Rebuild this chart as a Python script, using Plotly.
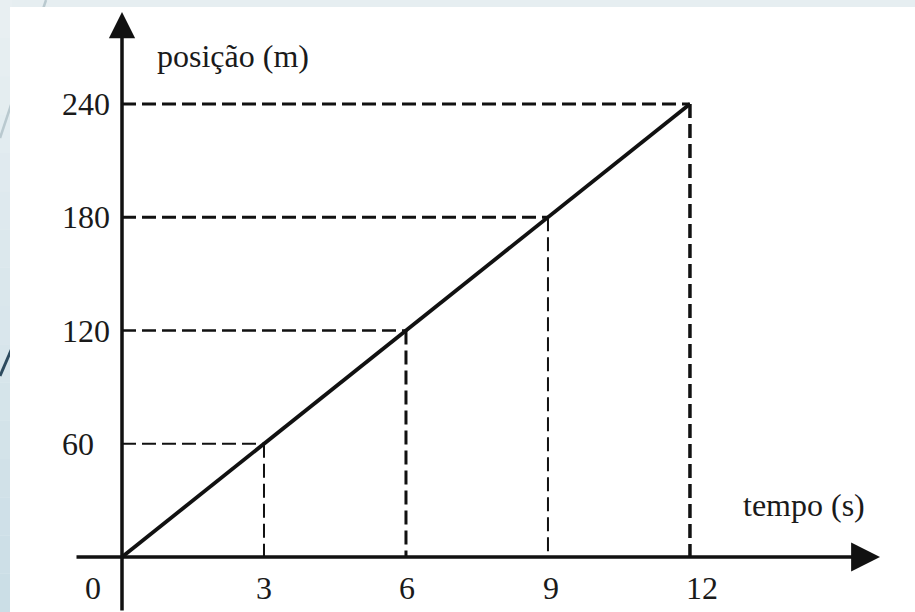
import plotly.graph_objects as go

# Movement data: position (m) against time (s)
tempo = [0, 3, 6, 9, 12]
posicao = [0, 60, 120, 180, 240]
x_tick_labels = ["0", "3", "6", "9", "12"]
y_tick_labels = ["60", "120", "180", "240"]

W, H = 915, 612
# pixel placement of the origin and the pixels per unit on each axis
X0, XS = 122, 47.33
Y0, YS = 557, 1.8875
x_range = [-X0 / XS, (W - X0) / XS]
y_range = [-(H - Y0) / YS, Y0 / YS]

INK = "#111111"
TXT = "#1a1a1a"
FONT = "Liberation Serif"


def px_x(p):
    return p / W


def px_y(p):
    return 1 - p / H


fig = go.Figure()

# dashed guides from each point to the axes
h_widths = [2, 2.5, 3, 3]
v_widths = [2, 3, 2, 3.5]
for i, (t, p) in enumerate(zip(tempo[1:], posicao[1:])):
    fig.add_trace(go.Scatter(x=[0, t], y=[p, p], mode="lines",
                             line=dict(color=INK, width=h_widths[i], dash="14px,6px"),
                             hoverinfo="skip", showlegend=False))
    fig.add_trace(go.Scatter(x=[t, t], y=[p, 0], mode="lines",
                             line=dict(color=INK, width=v_widths[i], dash="14px,6px"),
                             hoverinfo="skip", showlegend=False))

# position line
fig.add_trace(go.Scatter(x=tempo, y=posicao, mode="lines",
                         line=dict(color=INK, width=3.8),
                         hoverinfo="skip", showlegend=False))

# page background: slide strip on the left, white panel
shapes = []
bands = 16
c_top = (232, 239, 242)
c_bot = (203, 222, 230)
for k in range(bands):
    f = k / (bands - 1)
    c = tuple(int(round(c_top[j] + (c_bot[j] - c_top[j]) * f)) for j in range(3))
    shapes.append(dict(type="rect", xref="paper", yref="paper", layer="below",
                       x0=0, x1=px_x(12), y0=px_y(H * (k + 1) / bands), y1=px_y(H * k / bands),
                       line=dict(width=0), fillcolor="rgb(%d,%d,%d)" % c))
shapes.append(dict(type="line", xref="paper", yref="paper", layer="below",
                   x0=px_x(46), y0=px_y(0), x1=px_x(0), y1=px_y(138),
                   line=dict(color="#b9c9cf", width=2.5)))
shapes.append(dict(type="line", xref="paper", yref="paper", layer="below",
                   x0=px_x(40), y0=px_y(283), x1=px_x(0), y1=px_y(376),
                   line=dict(color="#2d4b5f", width=3)))
shapes.append(dict(type="rect", xref="paper", yref="paper", layer="below",
                   x0=px_x(10), x1=1, y0=0, y1=px_y(7),
                   line=dict(width=0), fillcolor="#ffffff"))

annotations = []
# axes with arrow heads
annotations.append(dict(x=(880 - X0) / XS, y=0, ax=(75 - X0) / XS, ay=0,
                        xref="x", yref="y", axref="x", ayref="y", text="",
                        showarrow=True, arrowhead=2, arrowsize=1.65,
                        arrowwidth=3.5, arrowcolor=INK))
annotations.append(dict(x=0, y=(Y0 - 12) / YS, ax=0, ay=y_range[0],
                        xref="x", yref="y", axref="x", ayref="y", text="",
                        showarrow=True, arrowhead=2, arrowsize=1.5,
                        arrowwidth=3.5, arrowcolor=INK))

# tick labels
x_shifts = [-29, 0, 1, 3, 12]
for t, lab, s in zip(tempo, x_tick_labels, x_shifts):
    annotations.append(dict(x=t, y=0, xref="x", yref="y", text=lab, showarrow=False,
                            xanchor="center", yanchor="middle", xshift=s, yshift=-31,
                            font=dict(family=FONT, size=32, color=TXT)))
for p, lab in zip(posicao[1:], y_tick_labels):
    annotations.append(dict(x=0, y=p, xref="x", yref="y", text=lab, showarrow=False,
                            xanchor="left", yanchor="middle", xshift=-62,
                            font=dict(family=FONT, size=32, color=TXT)))

# axis titles
annotations.append(dict(x=px_x(155), y=px_y(56), xref="paper", yref="paper",
                        text="posição (m)", showarrow=False, xanchor="left", yanchor="middle",
                        font=dict(family=FONT, size=32, color=TXT)))
annotations.append(dict(x=px_x(741), y=px_y(505), xref="paper", yref="paper",
                        text="tempo (s)", showarrow=False, xanchor="left", yanchor="middle",
                        font=dict(family=FONT, size=32, color=TXT)))

fig.update_layout(
    width=W, height=H,
    margin=dict(l=0, r=0, t=0, b=0),
    paper_bgcolor="#e6eef1",
    plot_bgcolor="rgba(0,0,0,0)",
    xaxis=dict(range=x_range, visible=False, fixedrange=True),
    yaxis=dict(range=y_range, visible=False, fixedrange=True),
    shapes=shapes,
    annotations=annotations,
    showlegend=False,
)

fig.write_html("out.html")
